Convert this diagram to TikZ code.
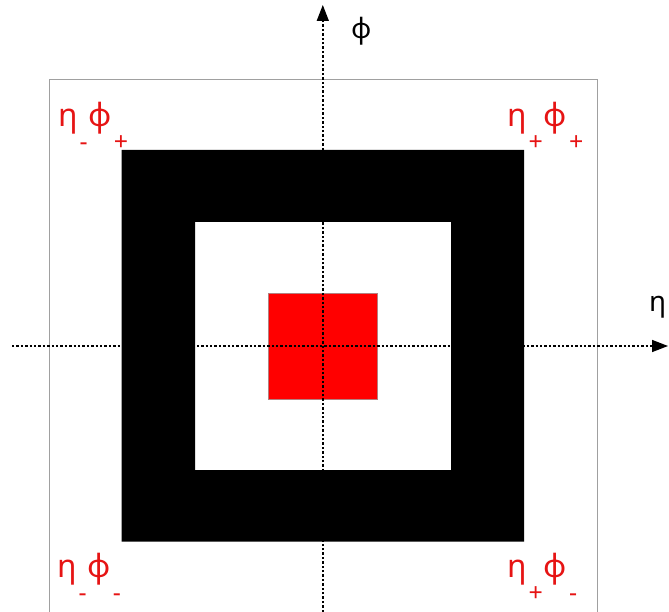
\documentclass[tikz,border=0pt]{standalone}
\usepackage{fontspec}
\setmainfont{Noto Sans}
\usetikzlibrary{arrows.meta}
\definecolor{lblred}{RGB}{230,20,20}
\definecolor{boxgray}{RGB}{160,160,160}
\tikzset{
  axisline/.style={line width=1.4pt, dash pattern=on 2.4pt off 2pt, -{Triangle[length=16pt,width=12pt]}},
  cornerlbl/.style={anchor=base west, inner sep=0pt, text=lblred, font=\fontsize{32}{32}\selectfont},
  axislbl/.style={anchor=base west, inner sep=0pt, font=\fontsize{28}{28}\selectfont}
}
\newcommand{\lsub}[1]{\hspace{2pt}\raisebox{-24pt}{\fontsize{25}{25}\selectfont #1}\hspace{1pt}}
\begin{document}
\begin{tikzpicture}[x=1pt,y=-1pt]
\useasboundingbox (0,0) rectangle (669,612);
% outer thin frame (open at the bottom)
\draw[boxgray, line width=1pt] (49,612) -- (49,80) -- (597,80) -- (597,612);
% black frame
\fill[black, even odd rule] (121.5,150) rectangle (524,541.5) (195,222) rectangle (451,470);
% red square
\node[draw=boxgray!80!red, line width=0.6pt, fill=red, minimum width=109pt, minimum height=106pt, inner sep=0pt] (core) at (322.8,346) {};
% axes
\coordinate (ystart) at (322.8,612);
\coordinate (yend) at (322.8,5);
\coordinate (xstart) at (12,346);
\coordinate (xend) at (668,346);
\draw[axisline] (ystart) -- (yend);
\draw[axisline] (xstart) -- (xend);
\node[axislbl] (philbl) at (351,39) {ϕ};
\node[axislbl] (etalbl) at (649,312) {η};
% corner labels
\node[cornerlbl] (tl) at (58,127) {η\lsub{-}ϕ\lsub{+}};
\node[cornerlbl] (tr) at (507,127) {η\lsub{+}ϕ\lsub{+}};
\node[cornerlbl] (bl) at (57,577) {η\lsub{-}ϕ\lsub{-}};
\node[cornerlbl] (br) at (507,577) {η\lsub{+}ϕ\lsub{-}};
\end{tikzpicture}
\end{document}
